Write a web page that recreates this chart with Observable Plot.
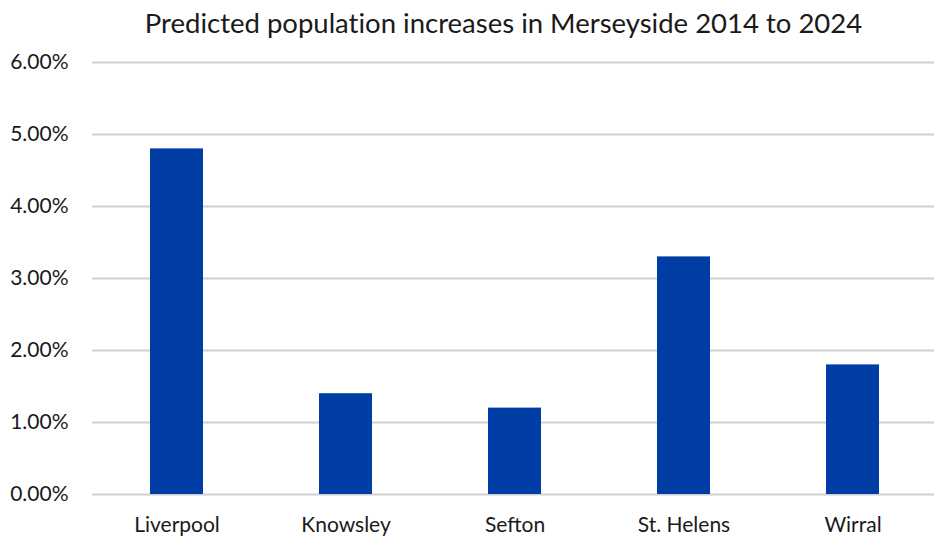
<!DOCTYPE html>
<html>
<head>
<meta charset="utf-8">
<script src="https://cdn.jsdelivr.net/npm/d3@7"></script>
<script src="https://cdn.jsdelivr.net/npm/@observablehq/plot@0.6"></script>
<style>
  html, body { margin: 0; padding: 0; background: #fff; }
  #chart { width: 934px; height: 536px; position: relative; overflow: hidden; }
  #title {
    position: absolute; left: 0; top: 0; width: 934px; height: 45px;
    box-sizing: border-box; padding-left: 73px; text-align: center;
    font-family: Lato, "Open Sans", sans-serif; font-size: 27.5px; line-height: 45px;
    color: #1a1a1a; font-variant-ligatures: none;
  }
  #plot { position: absolute; left: 0; top: 45px; }
</style>
</head>
<body>
<div id="chart">
  <div id="title">Predicted population increases in Merseyside 2014 to 2024</div>
  <div id="plot"></div>
</div>
<script>
// Merseyside boroughs and their predicted population growth, 2014–2024
const regions = ["Liverpool", "Knowsley", "Sefton", "St. Helens", "Wirral"];
const increases = [0.048, 0.014, 0.012, 0.033, 0.018];
const yTicks = [0, 0.01, 0.02, 0.03, 0.04, 0.05, 0.06];

const data = regions.map((region, i) => ({region, value: increases[i]}));

const chart = Plot.plot({
  width: 934,
  height: 491,
  marginTop: 17,
  marginBottom: 42,
  marginLeft: 92,
  marginRight: 0,
  style: {fontFamily: "Lato, 'Open Sans', sans-serif", fontSize: "21px", color: "#1a1a1a", background: "#fff"},
  x: {domain: regions, range: [92, 937], paddingInner: 0.687, paddingOuter: 0.3435},
  y: {domain: [0, 0.06]},
  marks: [
    // horizontal gridlines across the frame
    Plot.ruleY(yTicks, {stroke: "#d0d0d0", strokeWidth: 2}),
    Plot.barY(data, {x: "region", y: "value", fill: "#003da5"}),
    Plot.axisY({ticks: yTicks, tickFormat: d3.format(".2%"), tickSize: 0, tickPadding: 24, label: null, fontSize: 21}),
    Plot.axisX({tickSize: 0, tickPadding: 23, label: null, fontSize: 21})
  ]
});
document.getElementById("plot").appendChild(chart);
</script>
</body>
</html>
